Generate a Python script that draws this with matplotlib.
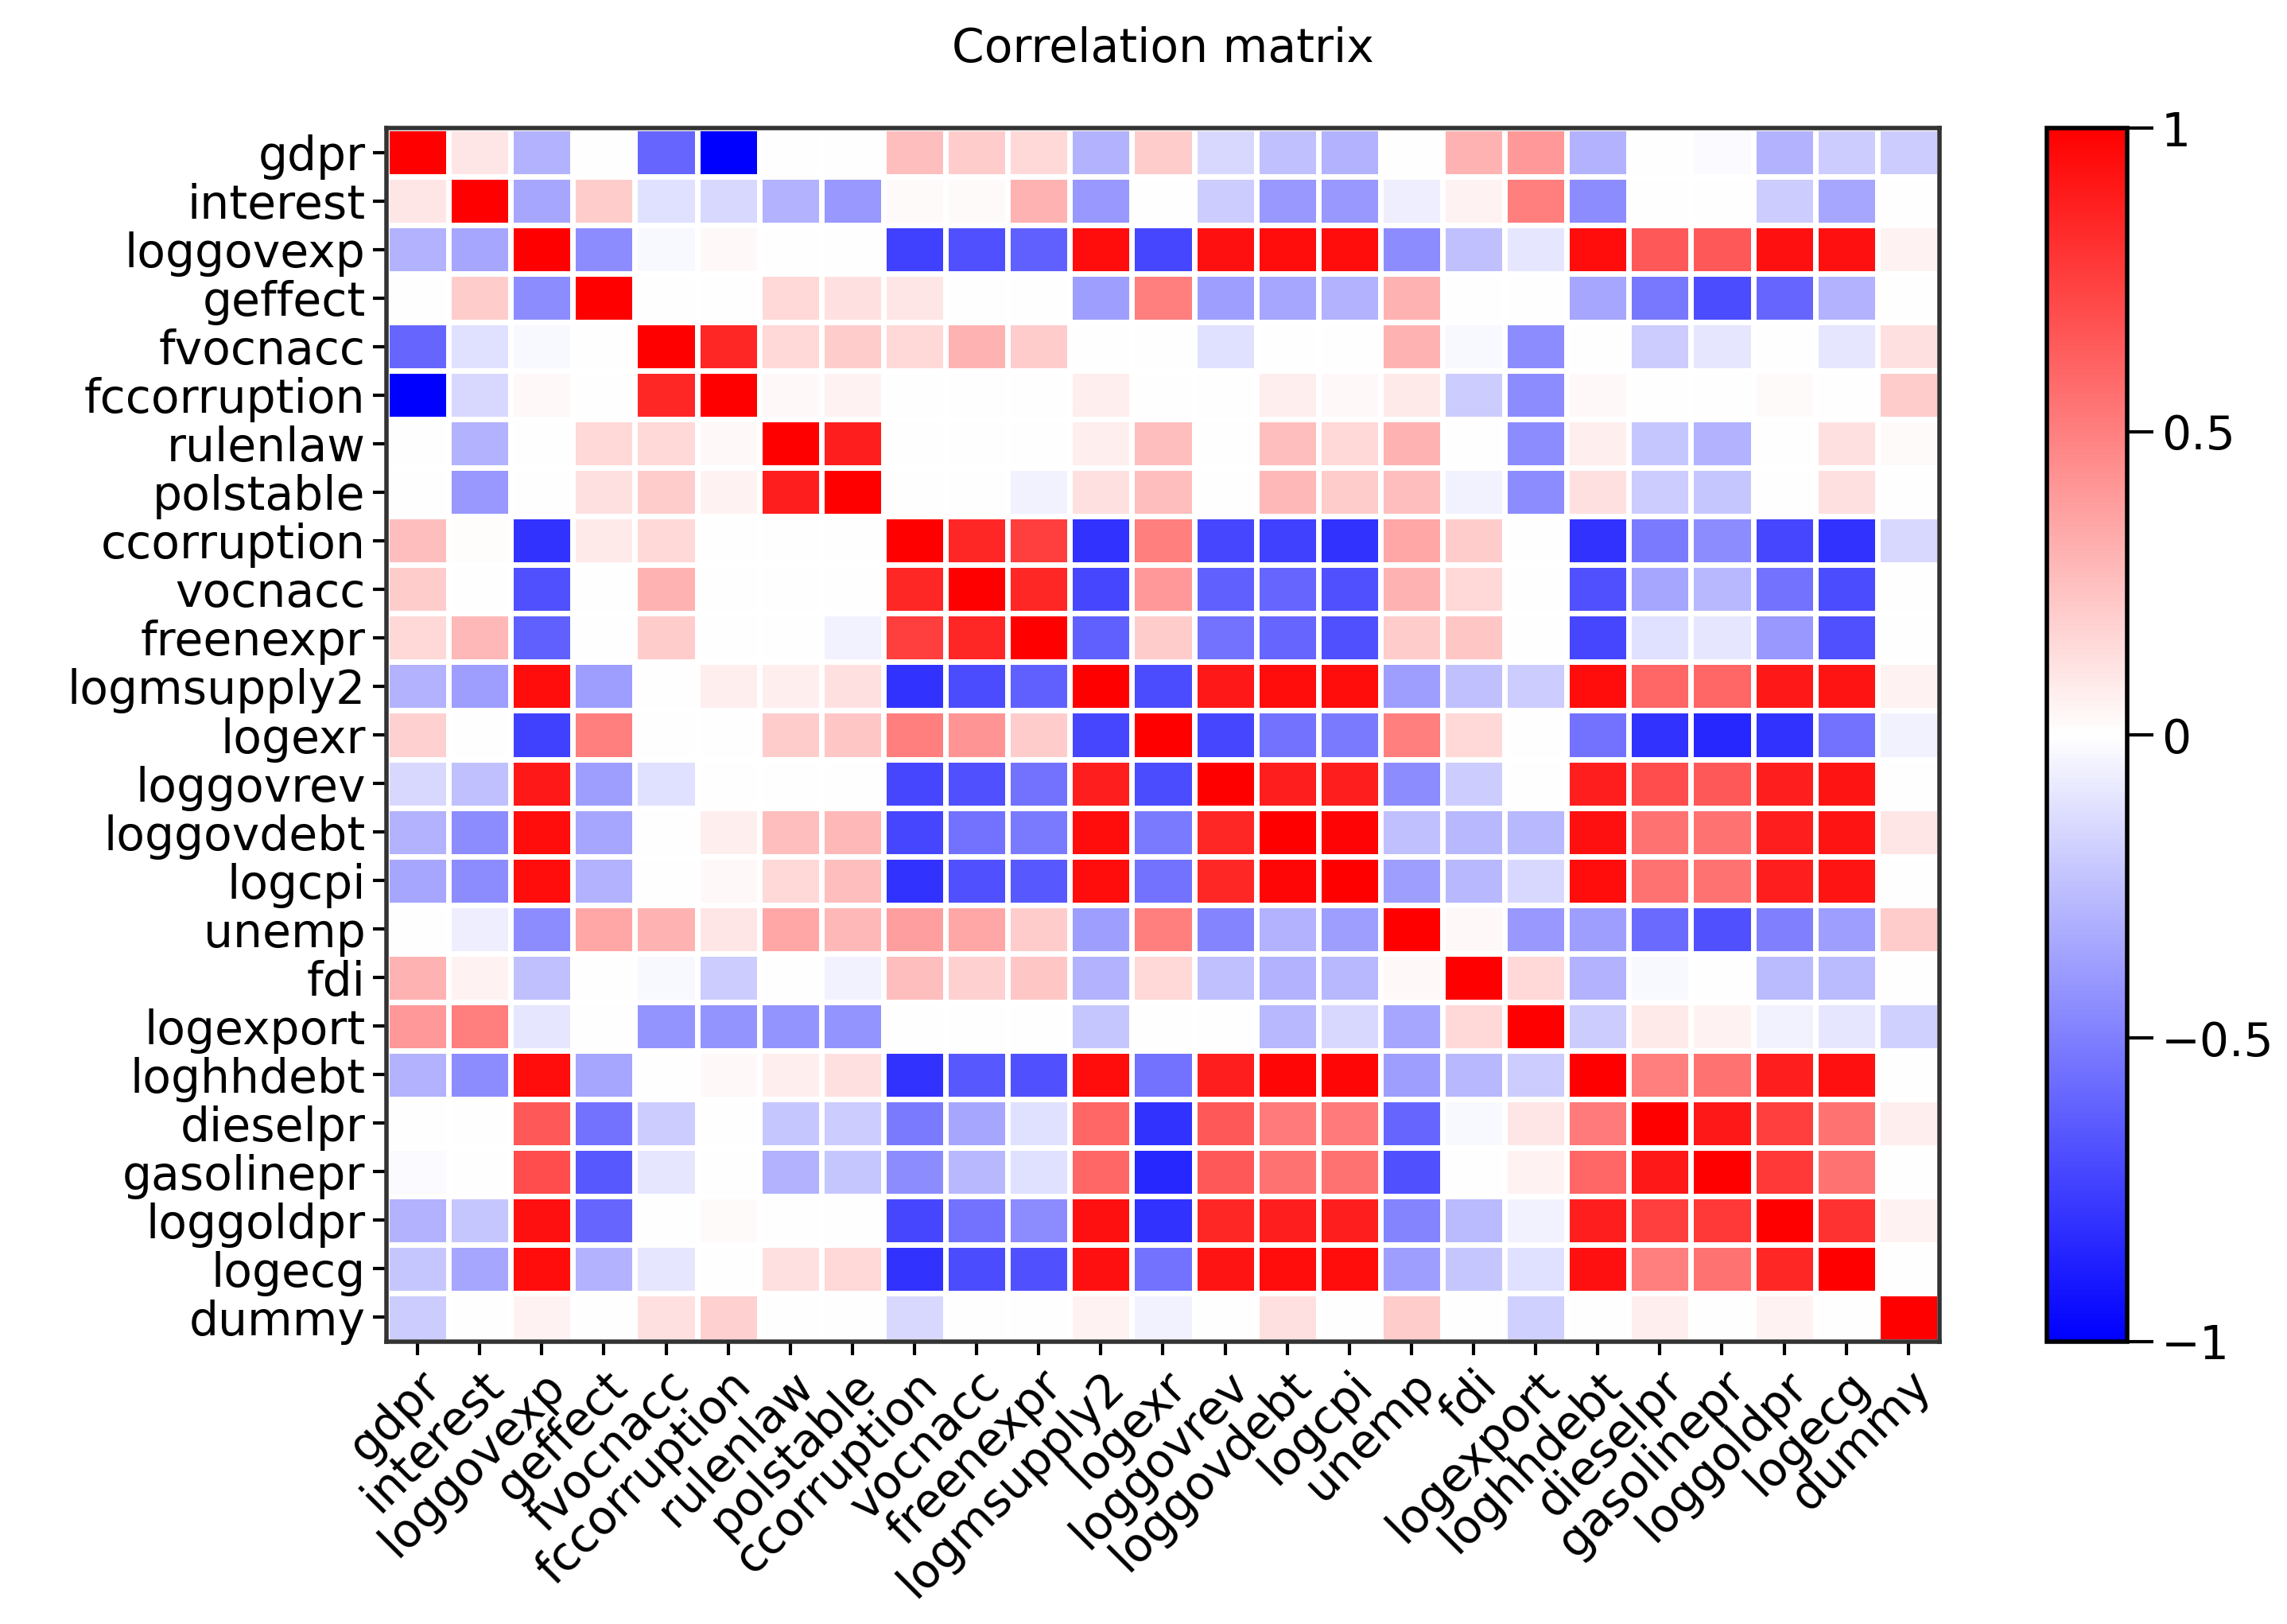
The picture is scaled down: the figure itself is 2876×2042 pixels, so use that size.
import numpy as np
import matplotlib
matplotlib.use("Agg")
import matplotlib.pyplot as plt

labels = ["gdpr","interest","loggovexp","geffect","fvocnacc","fccorruption","rulenlaw",
          "polstable","ccorruption","vocnacc","freenexpr","logmsupply2","logexr","loggovrev",
          "loggovdebt","logcpi","unemp","fdi","logexport","loghhdebt","dieselpr","gasolinepr",
          "loggoldpr","logecg","dummy"]

r_gdpr = [1,.1,-.3,0,-.6,-1,0,0,.25,.2,.15,-.3,.2,-.15,-.25,-.3,0,.3,.4,-.3,0,-.02,-.3,-.2,-.2]
r_interest = [.1,1,-.35,.2,-.12,-.15,-.3,-.4,.02,.02,.3,-.4,0,-.2,-.4,-.4,-.07,.05,.5,-.45,0,0,-.2,-.35,0]
r_loggovexp = [-.3,-.35,1,-.45,-.03,.03,0,0,-.75,-.68,-.62,.95,-.72,.93,.95,.95,-.45,-.25,-.1,.95,.65,.65,.93,.93,.05]
r_geffect = [0,.2,-.45,1,0,0,.15,.12,.1,0,0,-.38,.5,-.38,-.35,-.3,.3,0,0,-.35,-.53,-.7,-.6,-.3,0]
r_fvocnacc = [-.6,-.12,-.03,0,1,.85,.15,.2,.15,.3,.2,0,0,-.12,0,0,.3,-.03,-.45,0,-.2,-.1,0,-.1,.12]
r_fccorruption = [-1,-.15,.03,0,.85,1,.03,.05,0,0,0,.07,0,0,.07,.03,.08,-.2,-.45,.03,0,0,.02,0,.2]
r_rulenlaw = [0,-.3,0,.15,.15,.03,1,.88,0,0,0,.07,.25,0,.25,.15,.3,0,-.45,.07,-.22,-.3,0,.12,.02]
r_polstable = [0,-.4,0,.12,.2,.05,.88,1,0,0,-.05,.12,.25,0,.28,.2,.25,-.05,-.45,.12,-.2,-.22,0,.12,0]
r_ccorruption = [.25,.01,-.8,.08,.15,0,0,0,1,.85,.75,-.8,.5,-.72,-.75,-.8,.35,.2,0,-.8,-.52,-.45,-.72,-.8,-.15]
r_vocnacc = [.2,0,-.68,0,.3,0,0,0,.85,1,.85,-.72,.4,-.62,-.6,-.68,.3,.15,0,-.68,-.35,-.28,-.55,-.7,0]
r_freenexpr = [.15,.28,-.62,0,.2,0,0,-.05,.75,.85,1,-.62,.2,-.55,-.6,-.68,.2,.22,0,-.72,-.12,-.1,-.4,-.68,0]
r_logmsupply2 = [-.3,-.38,.95,-.38,0,.07,.07,.12,-.8,-.7,-.62,1,-.7,.9,.95,.95,-.38,-.25,-.2,.95,.6,.6,.9,.92,.05]
r_logexr = [.18,0,-.75,.5,0,0,.2,.22,.5,.42,.2,-.72,1,-.72,-.55,-.52,.5,.15,0,-.55,-.8,-.85,-.8,-.55,-.05]
r_loggovrev = [-.15,-.25,.9,-.38,-.12,0,0,0,-.72,-.68,-.55,.88,-.7,1,.88,.88,-.45,-.2,0,.88,.7,.65,.88,.92,0]
r_loggovdebt = [-.3,-.45,.95,-.35,0,.07,.25,.28,-.72,-.55,-.52,.95,-.52,.85,1,.98,-.25,-.28,-.28,.93,.55,.55,.88,.92,.1]
r_logcpi = [-.35,-.45,.95,-.3,0,.03,.15,.25,-.8,-.68,-.65,.95,-.55,.85,.97,1,-.38,-.28,-.15,.95,.55,.55,.88,.92,0]
r_unemp = [0,-.07,-.45,.35,.3,.1,.35,.28,.38,.35,.2,-.38,.5,-.48,-.3,-.38,1,.03,-.4,-.38,-.58,-.68,-.5,-.38,.2]
r_fdi = [.3,.05,-.25,0,-.03,-.2,0,-.05,.25,.18,.22,-.3,.15,-.25,-.3,-.28,.03,1,.15,-.3,-.03,0,-.27,-.27,0]
r_logexport = [.4,.5,-.1,0,-.42,-.42,-.42,-.42,0,0,0,-.22,0,0,-.28,-.15,-.35,.15,1,-.2,.08,.05,-.05,-.1,-.18]
r_loghhdebt = [-.3,-.45,.95,-.35,0,.03,.07,.12,-.8,-.65,-.68,.95,-.55,.88,.97,.97,-.38,-.28,-.2,1,.5,.55,.88,.93,0]
r_dieselpr = [0,0,.65,-.55,-.2,0,-.22,-.2,-.52,-.35,-.12,.6,-.8,.65,.52,.52,-.6,-.03,.1,.52,1,.9,.75,.55,.07]
r_gasolinepr = [-.02,0,.7,-.65,-.1,0,-.3,-.22,-.45,-.28,-.12,.6,-.85,.65,.55,.55,-.68,0,.05,.6,.9,1,.78,.55,0]
r_loggoldpr = [-.3,-.22,.93,-.6,0,.02,0,0,-.72,-.55,-.45,.93,-.8,.85,.88,.88,-.48,-.27,-.05,.88,.75,.78,1,.8,.05]
r_logecg = [-.22,-.35,.95,-.3,-.1,0,.12,.15,-.8,-.7,-.68,.93,-.55,.92,.95,.95,-.38,-.22,-.12,.93,.5,.55,.85,1,0]
r_dummy = [-.2,0,.05,0,.12,.18,0,0,-.15,0,0,.05,-.05,0,.12,0,.2,0,-.18,0,.07,0,.05,0,1]

rows = [r_gdpr,r_interest,r_loggovexp,r_geffect,r_fvocnacc,r_fccorruption,r_rulenlaw,
        r_polstable,r_ccorruption,r_vocnacc,r_freenexpr,r_logmsupply2,r_logexr,r_loggovrev,
        r_loggovdebt,r_logcpi,r_unemp,r_fdi,r_logexport,r_loghhdebt,r_dieselpr,r_gasolinepr,
        r_loggoldpr,r_logecg,r_dummy]
M = np.array(rows, dtype=float)
n = len(labels)

fs = 21
fig = plt.figure(figsize=(14.38, 10.21), dpi=200)
ax = fig.add_axes([0.169, 0.174, 0.679, 0.747])
mesh = ax.pcolormesh(np.arange(n+1), np.arange(n+1), M, cmap="bwr", vmin=-1, vmax=1,
                     edgecolors="white", linewidth=2.5)
ax.set_xlim(0, n); ax.set_ylim(n, 0)
ax.set_xticks(np.arange(n)+0.5)
ax.set_yticks(np.arange(n)+0.5)
ax.set_xticklabels(labels, rotation=45, ha="right", rotation_mode="anchor", fontsize=fs)
ax.set_yticklabels(labels, fontsize=fs)
ax.tick_params(length=6, width=1.5)
for s in ax.spines.values():
    s.set_linewidth(2); s.set_color("#333333")
ax.set_title("Correlation matrix", fontsize=fs, pad=30)

cax = fig.add_axes([0.895, 0.174, 0.035, 0.747])
cb = fig.colorbar(mesh, cax=cax, ticks=[-1, -0.5, 0, 0.5, 1])
cb.ax.set_yticklabels(["\u22121", "\u22120.5", "0", "0.5", "1"], fontsize=fs)
cb.ax.tick_params(length=12, width=1.5)
cb.outline.set_linewidth(2)
fig.savefig("out.png", dpi=200)
